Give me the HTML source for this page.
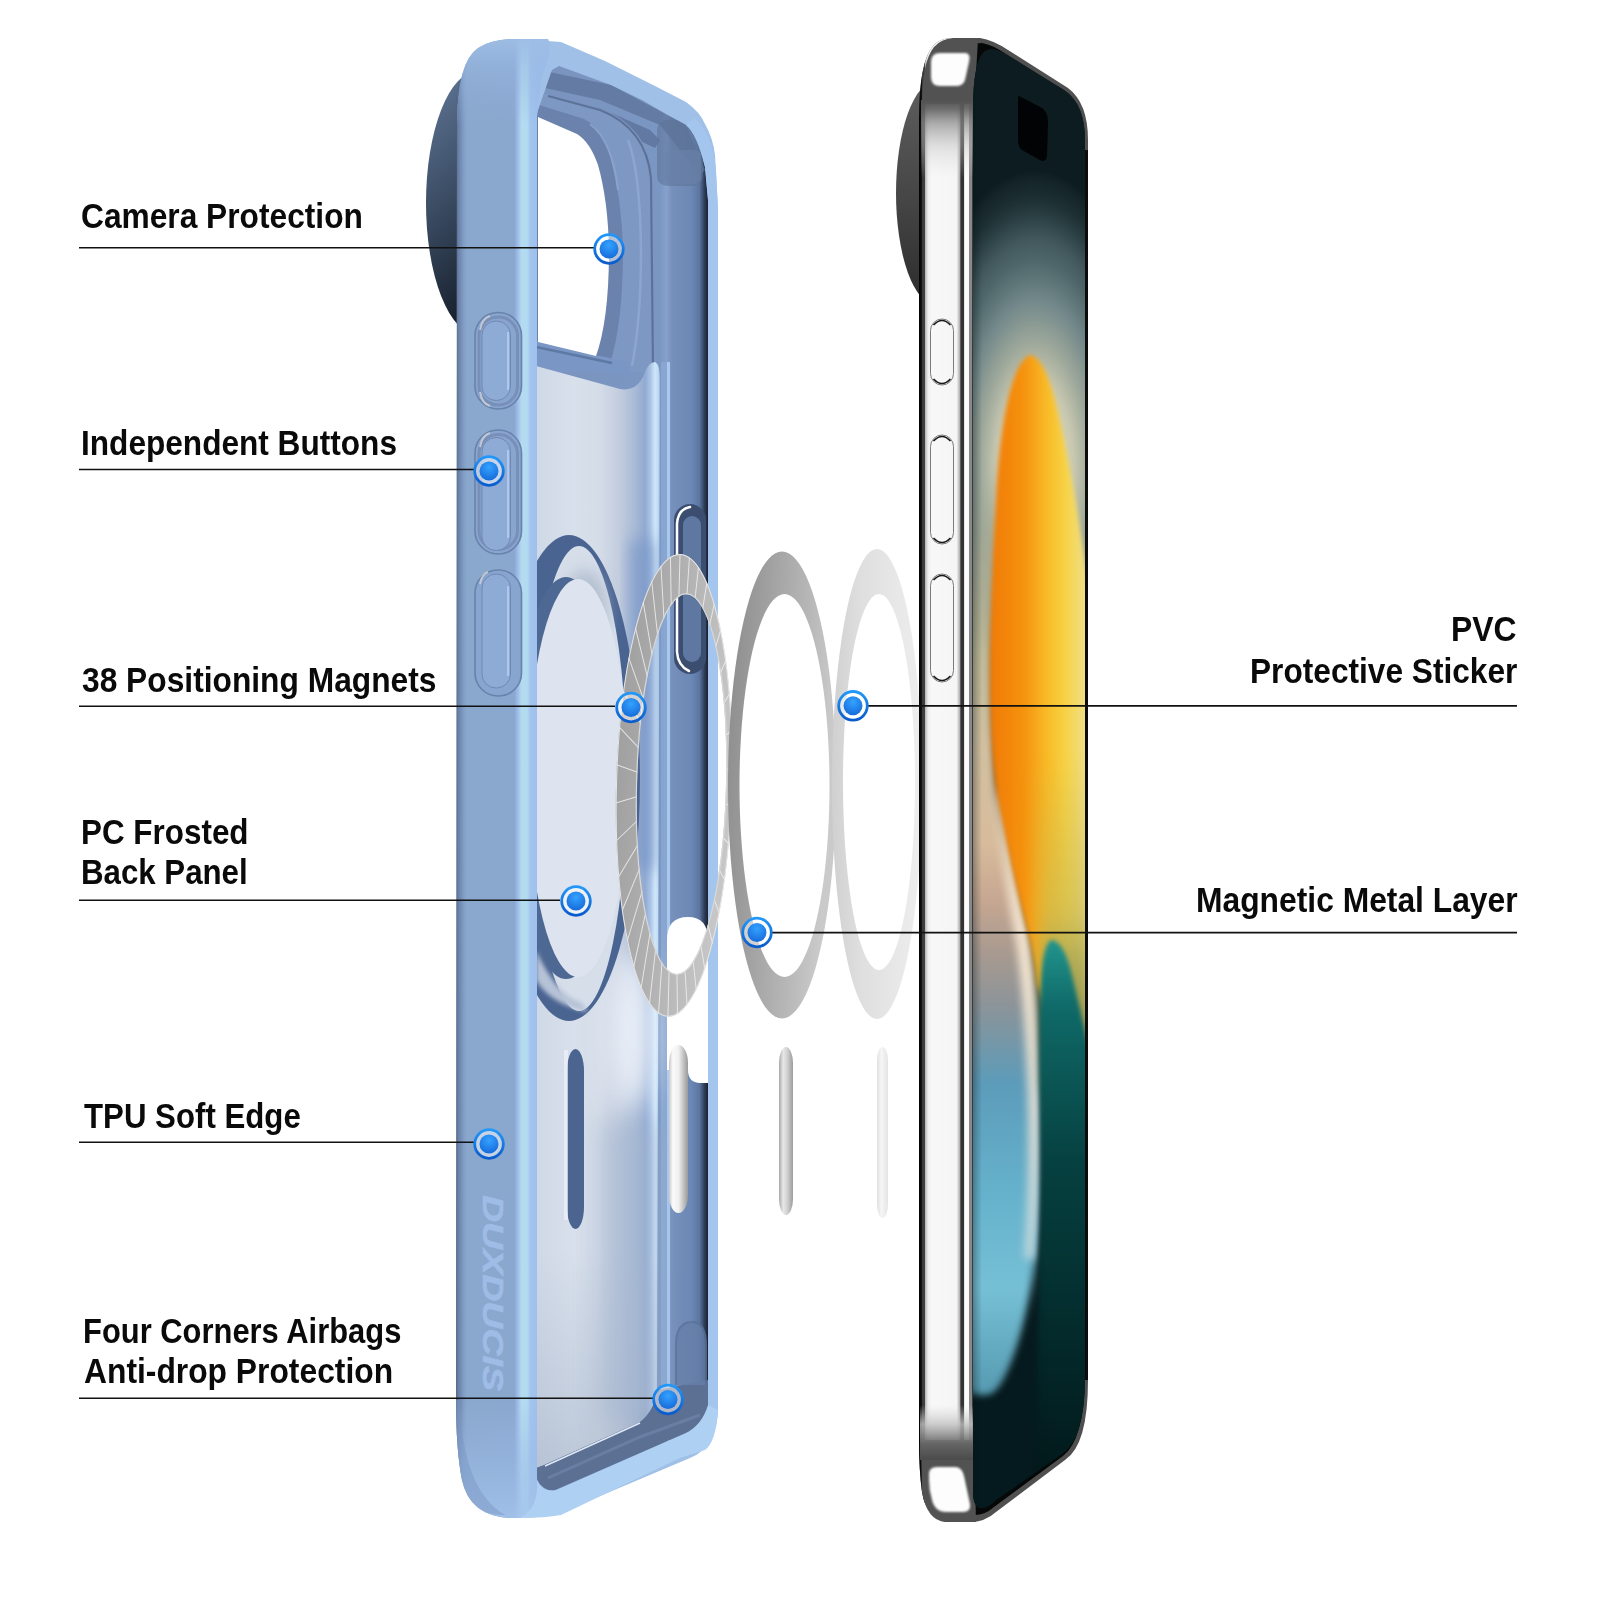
<!DOCTYPE html>
<html><head><meta charset="utf-8">
<style>
html,body{margin:0;padding:0;background:#fff;}
body{width:1600px;height:1600px;position:relative;overflow:hidden;font-family:"Liberation Sans",sans-serif;}
svg{position:absolute;left:0;top:0;}
.t{position:absolute;font-size:34.4px;line-height:34.4px;font-weight:bold;color:#0a0a0a;white-space:nowrap;transform-origin:0 0;}
</style></head><body>
<svg width="1600" height="1600" viewBox="0 0 1600 1600">
<defs>
  <filter id="b2" color-interpolation-filters="sRGB" x="-20%" y="-20%" width="140%" height="140%"><feGaussianBlur stdDeviation="2"/></filter>
  <filter id="b4" color-interpolation-filters="sRGB" x="-30%" y="-30%" width="160%" height="160%"><feGaussianBlur stdDeviation="4"/></filter>
  <filter id="b8" color-interpolation-filters="sRGB" x="-40%" y="-40%" width="180%" height="180%"><feGaussianBlur stdDeviation="8"/></filter>
  <filter id="b14" color-interpolation-filters="sRGB" x="-50%" y="-50%" width="200%" height="200%"><feGaussianBlur stdDeviation="14"/></filter>
  <linearGradient id="camCase" x1="0" y1="0" x2="0.35" y2="1">
    <stop offset="0" stop-color="#62789a"/><stop offset="0.45" stop-color="#3e5068"/><stop offset="1" stop-color="#121a26"/>
  </linearGradient>
  <linearGradient id="camPhone" x1="0" y1="0" x2="0" y2="1">
    <stop offset="0" stop-color="#5e5e5e"/><stop offset="0.5" stop-color="#474747"/><stop offset="1" stop-color="#2c2c2c"/>
  </linearGradient>
  <linearGradient id="side" x1="456" y1="0" x2="537" y2="0" gradientUnits="userSpaceOnUse">
    <stop offset="0" stop-color="#56688a"/><stop offset="0.03" stop-color="#6a80a6"/><stop offset="0.1" stop-color="#82a0c8"/>
    <stop offset="0.14" stop-color="#8aa7cc"/><stop offset="0.72" stop-color="#8aa7cf"/><stop offset="0.77" stop-color="#a2c0ea"/>
    <stop offset="0.81" stop-color="#b4dcf0"/><stop offset="0.88" stop-color="#b2daf0"/><stop offset="0.92" stop-color="#a2c4ee"/><stop offset="1" stop-color="#9ec0ec"/>
  </linearGradient>
  <linearGradient id="sideTop" x1="0" y1="39" x2="0" y2="125" gradientUnits="userSpaceOnUse">
    <stop offset="0" stop-color="#9ebee6" stop-opacity="0.95"/><stop offset="0.35" stop-color="#98b8e2" stop-opacity="0.5"/><stop offset="1" stop-color="#90b0da" stop-opacity="0"/>
  </linearGradient>
  <linearGradient id="sideBot" x1="0" y1="1400" x2="0" y2="1518" gradientUnits="userSpaceOnUse">
    <stop offset="0" stop-color="#9cbce6" stop-opacity="0"/><stop offset="0.5" stop-color="#9cbce6" stop-opacity="0.5"/><stop offset="1" stop-color="#a4c4ec" stop-opacity="0.85"/>
  </linearGradient>
  <linearGradient id="cav" x1="536" y1="0" x2="708" y2="0" gradientUnits="userSpaceOnUse">
    <stop offset="0" stop-color="#7a94be"/><stop offset="0.72" stop-color="#7a96c2"/><stop offset="0.76" stop-color="#86a2cc"/><stop offset="0.79" stop-color="#7590bb"/>
    <stop offset="0.9" stop-color="#6c88b4"/><stop offset="0.95" stop-color="#5c76a2"/><stop offset="0.98" stop-color="#2e3c56"/><stop offset="1" stop-color="#1a2232"/>
  </linearGradient>
  <linearGradient id="panel" x1="536" y1="0" x2="661" y2="0" gradientUnits="userSpaceOnUse">
    <stop offset="0" stop-color="#cfd8e6"/><stop offset="0.3" stop-color="#d8e0ec"/><stop offset="0.512" stop-color="#d4dce8"/><stop offset="0.672" stop-color="#c2ccde"/>
    <stop offset="0.792" stop-color="#a8bad6"/><stop offset="0.872" stop-color="#92aad0"/><stop offset="0.912" stop-color="#a6c0e6"/><stop offset="0.952" stop-color="#d0e6f8"/><stop offset="0.976" stop-color="#c0dcf6"/><stop offset="1" stop-color="#8aa8d4"/>
  </linearGradient>
  <linearGradient id="pill1" x1="0" y1="0" x2="1" y2="0">
    <stop offset="0" stop-color="#c8c8c8"/><stop offset="0.2" stop-color="#fafafa"/><stop offset="0.5" stop-color="#f0f0f0"/><stop offset="0.75" stop-color="#c4c4c4"/><stop offset="1" stop-color="#9a9a9a"/>
  </linearGradient>
  <linearGradient id="pill2" x1="0" y1="0" x2="1" y2="0">
    <stop offset="0" stop-color="#a8a8a8"/><stop offset="0.3" stop-color="#e8e8e8"/><stop offset="0.6" stop-color="#d0d0d0"/><stop offset="1" stop-color="#9c9c9c"/>
  </linearGradient>
  <linearGradient id="pill3" x1="0" y1="0" x2="1" y2="0">
    <stop offset="0" stop-color="#e0e0e0"/><stop offset="0.4" stop-color="#f6f6f6"/><stop offset="1" stop-color="#e4e4e4"/>
  </linearGradient>
  <linearGradient id="panelLow" x1="0" y1="1250" x2="0" y2="1460" gradientUnits="userSpaceOnUse">
    <stop offset="0" stop-color="#a8b6cc" stop-opacity="0"/><stop offset="1" stop-color="#a2b0c6" stop-opacity="0.5"/>
  </linearGradient>
  <linearGradient id="ring2" x1="0" y1="0" x2="1" y2="0.25">
    <stop offset="0" stop-color="#8a8a8a"/><stop offset="0.3" stop-color="#9c9c9c"/><stop offset="0.75" stop-color="#b8b8b8"/><stop offset="1" stop-color="#cacaca"/>
  </linearGradient>
  <linearGradient id="ring1" x1="0" y1="0" x2="1" y2="0.25">
    <stop offset="0" stop-color="#9c9c9c"/><stop offset="0.5" stop-color="#b0b0b0"/><stop offset="1" stop-color="#c6c6c6"/>
  </linearGradient>
  <linearGradient id="ring3" x1="0" y1="0" x2="1" y2="0">
    <stop offset="0" stop-color="#d0d0d0"/><stop offset="0.3" stop-color="#dedede"/><stop offset="1" stop-color="#eeeeee"/>
  </linearGradient>
  <linearGradient id="chrome" x1="919" y1="0" x2="976" y2="0" gradientUnits="userSpaceOnUse">
    <stop offset="0" stop-color="#000"/><stop offset="0.044" stop-color="#111"/><stop offset="0.055" stop-color="#3a3a3a"/><stop offset="0.096" stop-color="#3c3c3c"/>
    <stop offset="0.115" stop-color="#c0c0c0"/><stop offset="0.16" stop-color="#ececec"/><stop offset="0.22" stop-color="#f8f8f8"/><stop offset="0.66" stop-color="#f5f5f5"/>
    <stop offset="0.715" stop-color="#b0b0b0"/><stop offset="0.735" stop-color="#333"/><stop offset="0.785" stop-color="#333"/><stop offset="0.8" stop-color="#fff"/>
    <stop offset="0.87" stop-color="#fafafa"/><stop offset="0.885" stop-color="#8a8a8a"/><stop offset="0.93" stop-color="#888"/><stop offset="0.945" stop-color="#000"/><stop offset="1" stop-color="#000"/>
  </linearGradient>
  <radialGradient id="glow" cx="1035" cy="470" r="1" gradientUnits="userSpaceOnUse" gradientTransform="translate(1035 470) scale(130 300) translate(-1035 -470)">
    <stop offset="0" stop-color="#ece6c8"/><stop offset="0.167" stop-color="#e0dcc0"/><stop offset="0.3" stop-color="#c8c8b0"/><stop offset="0.417" stop-color="#a0aa9c"/>
    <stop offset="0.567" stop-color="#72888a"/><stop offset="0.7" stop-color="#4e666a"/><stop offset="0.767" stop-color="#42585c"/><stop offset="0.833" stop-color="#2e4448"/>
    <stop offset="0.9" stop-color="#1e3034"/><stop offset="0.967" stop-color="#142428"/><stop offset="1" stop-color="#0c1c20"/>
  </radialGradient>
  <linearGradient id="leftcol" x1="0" y1="470" x2="0" y2="1400" gradientUnits="userSpaceOnUse">
    <stop offset="0" stop-color="#a0a894" stop-opacity="0"/><stop offset="0.1" stop-color="#aeae94" stop-opacity="0.8"/><stop offset="0.2" stop-color="#c0ba98"/><stop offset="0.3" stop-color="#d2c0a0"/>
    <stop offset="0.4" stop-color="#d8bc9c"/><stop offset="0.46" stop-color="#c8a892"/><stop offset="0.52" stop-color="#a89a90"/><stop offset="0.58" stop-color="#8a949a"/>
    <stop offset="0.66" stop-color="#5c9cba"/><stop offset="0.78" stop-color="#66b2cc"/><stop offset="0.88" stop-color="#76c0d6"/><stop offset="1" stop-color="#5498ae"/>
  </linearGradient>
  <linearGradient id="creamG" x1="0" y1="780" x2="0" y2="1260" gradientUnits="userSpaceOnUse">
    <stop offset="0" stop-color="#f2dcbc"/><stop offset="0.4" stop-color="#f4e6d4"/><stop offset="0.7" stop-color="#dcdcd4"/><stop offset="1" stop-color="#b8d4dc"/>
  </linearGradient>
  <linearGradient id="oliveV" x1="0" y1="760" x2="0" y2="1090" gradientUnits="userSpaceOnUse">
    <stop offset="0" stop-color="#c0b050" stop-opacity="0"/><stop offset="0.45" stop-color="#c2b454" stop-opacity="0.55"/><stop offset="0.6" stop-color="#aaa654" stop-opacity="0.85"/><stop offset="1" stop-color="#58683c" stop-opacity="0.95"/>
  </linearGradient>
  <filter id="b1" color-interpolation-filters="sRGB" x="-20%" y="-20%" width="140%" height="140%"><feGaussianBlur stdDeviation="1.2"/></filter>
  <linearGradient id="capFadeT" x1="0" y1="100" x2="0" y2="178" gradientUnits="userSpaceOnUse">
    <stop offset="0" stop-color="#525252" stop-opacity="1"/><stop offset="0.12" stop-color="#606060" stop-opacity="0.9"/><stop offset="0.3" stop-color="#8a8a8a" stop-opacity="0.7"/><stop offset="0.6" stop-color="#bbbbbb" stop-opacity="0.4"/><stop offset="1" stop-color="#dddddd" stop-opacity="0"/>
  </linearGradient>
  <linearGradient id="capFadeB" x1="0" y1="1405" x2="0" y2="1460" gradientUnits="userSpaceOnUse">
    <stop offset="0" stop-color="#d8d8d8" stop-opacity="0"/><stop offset="0.35" stop-color="#c0c0c0" stop-opacity="0.8"/><stop offset="0.7" stop-color="#666" stop-opacity="0.95"/><stop offset="1" stop-color="#4a4a4a" stop-opacity="1"/>
  </linearGradient>
  <linearGradient id="edgeL" x1="972" y1="0" x2="982" y2="0" gradientUnits="userSpaceOnUse">
    <stop offset="0" stop-color="#06141a" stop-opacity="0.35"/><stop offset="1" stop-color="#06141a" stop-opacity="0"/>
  </linearGradient>
  <linearGradient id="orange" x1="990" y1="0" x2="1086" y2="0" gradientUnits="userSpaceOnUse">
    <stop offset="0" stop-color="#f07a06"/><stop offset="0.35" stop-color="#f5920e"/><stop offset="0.6" stop-color="#f8bc28"/><stop offset="0.8" stop-color="#f6d448"/><stop offset="1" stop-color="#eede88"/>
  </linearGradient>
  <linearGradient id="teal" x1="0" y1="940" x2="0" y2="1500" gradientUnits="userSpaceOnUse">
    <stop offset="0" stop-color="#22958e"/><stop offset="0.12" stop-color="#0f6a68"/><stop offset="0.4" stop-color="#064040"/><stop offset="1" stop-color="#021618"/>
  </linearGradient>
  <linearGradient id="blue" x1="0" y1="1000" x2="0" y2="1400" gradientUnits="userSpaceOnUse">
    <stop offset="0" stop-color="#8aa0a4"/><stop offset="0.3" stop-color="#5a9ab8"/><stop offset="0.7" stop-color="#6ab8d2"/><stop offset="1" stop-color="#4c90aa"/>
  </linearGradient>
  <radialGradient id="dotG" cx="0.5" cy="0.3" r="0.75">
    <stop offset="0" stop-color="#34a2ff"/><stop offset="1" stop-color="#1468d8"/>
  </radialGradient>
  <linearGradient id="dotR" x1="0" y1="0" x2="0" y2="1">
    <stop offset="0" stop-color="#2398f8"/><stop offset="1" stop-color="#0a5ccc"/>
  </linearGradient>
  <clipPath id="scrClip">
    <path d="M973 110 Q973 60 985 51 Q992 47 1002 52 L1064 90 Q1085 104 1085 140 L1085 1378 Q1085 1438 1062 1454 L996 1500 Q988 1508 982 1508 Q974 1508 973 1495 Z"/>
  </clipPath>
  <clipPath id="cavClip">
    <path d="M540 105 L552 70 L559 66 L611 85 L642 100 L668 115 L686 125 Q697 134 705 167 L708 200 L708 1405 Q706 1430 690 1438 L560 1490 Q544 1494 536 1478 L536 117 Z"/>
  </clipPath>
  <g id="dot"><circle r="14.3" fill="rgba(255,255,255,0.5)" stroke="url(#dotR)" stroke-width="2.8"/><circle r="9.5" fill="url(#dotG)"/></g>
</defs>

<!-- ===== CASE ===== -->
<ellipse cx="478" cy="203" rx="52" ry="132" fill="url(#camCase)"/>
<!-- outer silhouette / top wall -->
<path d="M457 120 Q458 58 488 44 Q500 39 520 39 L561 42 L605 61 L655 86 L686 102 Q700 112 705 124 Q713 138 715 155 L718 210 L718 1410 Q716 1448 690 1458 L560 1513 Q545 1518 510 1518 Q470 1516 462 1480 Q456 1450 456 1400 Z" fill="#a0c0e8"/>
<!-- cavity -->
<path d="M540 105 L552 70 L559 66 L611 85 L642 100 L668 115 L686 125 Q697 134 705 167 L708 200 L708 1405 Q706 1430 690 1438 L560 1490 Q544 1494 536 1478 L536 117 Z" fill="url(#cav)"/>
<g clip-path="url(#cavClip)">
  <!-- top inner wall shading -->
  <path d="M540 70 L611 85 L686 125 L705 170 L700 175 L660 125 L600 100 L545 88 Z" fill="#5d7399" opacity="0.75"/>
  <path d="M545 95 L600 108 L650 130 L660 140 L655 148 L600 122 L545 110 Z" fill="#52688e" opacity="0.6"/>
  <!-- camera surround (raised ring) -->
  <path d="M536 92 L600 108 Q648 126 653 178 L655 372 L536 372 Z" fill="#7e98c4"/>
  <path d="M548 96 L600 110 Q646 128 651 178 L653 368" fill="none" stroke="#5c7298" stroke-width="2.2"/>
  <path d="M536 104 L584 119 Q602 128 610 155 Q622 200 623 250 Q623 322 610 364 L536 352 Z" fill="#6a82ac"/>
  <path d="M590 124 Q612 140 618 190" fill="none" stroke="#8ea8d0" stroke-width="2" opacity="0.8"/>
  <path d="M628 140 Q640 170 641 250 Q641 320 632 366" fill="none" stroke="#90aad2" stroke-width="2.5" opacity="0.8"/>
  <path d="M536 341 L600 356 L630 362 L630 374 L536 370 Z" fill="#7a96c4"/>
  <path d="M536 347 L612 363" stroke="#5e78a4" stroke-width="2.5"/>
  <!-- right stripe & slot region -->
  <rect x="661" y="362" width="9" height="1080" fill="#88a6d0"/>
  <rect x="667" y="362" width="3" height="1080" fill="#a8c8ee"/>
  <!-- frosted panel -->
  <path d="M536 366 L620 389 Q638 392 645 372 Q649 362 655 362 Q660 364 660 380 L657 1390 Q655 1410 640 1422 L544 1465 L536 1468 Z" fill="url(#panel)"/>
  <path d="M536 1250 L657 1250 L657 1390 Q655 1410 640 1422 L544 1465 L536 1468 Z" fill="url(#panelLow)"/>
  <rect x="630" y="540" width="24" height="330" fill="#7a98c8" filter="url(#b8)" opacity="0.75"/>
  <rect x="600" y="1120" width="56" height="300" fill="#a4b6d0" filter="url(#b14)" opacity="0.6"/>
  <ellipse cx="632" cy="1030" rx="22" ry="80" fill="#f2f6fc" filter="url(#b14)" opacity="0.9"/>
  <!-- magsafe recess on case -->
  <ellipse cx="569" cy="778" rx="71" ry="243" fill="#4a6492"/>
  <ellipse cx="579" cy="778.5" rx="48" ry="232.5" fill="#d6deea"/>
  <ellipse cx="585" cy="610" rx="22" ry="40" fill="#aab6c8" filter="url(#b8)" opacity="0.8"/>
  <ellipse cx="566" cy="778" rx="52" ry="201" fill="#4e6894"/>
  <ellipse cx="578" cy="778" rx="50" ry="199" fill="#dde4ef"/>
  <path d="M536 950 Q556 995 582 1003 L588 1012 Q550 1004 536 980 Z" fill="#b6c2d6" filter="url(#b2)"/>
  <!-- slot -->
  <rect x="567" y="1049" width="17" height="180" rx="8.5" ry="22" fill="#4b6590"/>
  <rect x="564" y="1050" width="4" height="170" fill="#eef2f8" opacity="0.7"/>
  <!-- bottom interior -->
  <path d="M536 1468 L544 1465 L640 1422 Q655 1410 657 1390 L708 1380 L708 1420 Q700 1428 686 1433 L555 1490 L536 1495 Z" fill="#5c7094"/>
  <path d="M548 1478 L640 1437 L700 1415" fill="none" stroke="#6d82a6" stroke-width="3" opacity="0.8"/>
  <path d="M545 1466 L640 1423" fill="none" stroke="#dfe8f4" stroke-width="1.5"/>
  <!-- right cavity U-slot -->
  <rect x="674" y="504" width="32" height="170" rx="16" fill="#3c4e70"/>
  <rect x="683" y="516" width="18" height="146" rx="9" fill="#5e78a2"/>
  <path d="M690 507 Q678 509 677 524 L677 652 Q678 666 689 671" fill="none" stroke="#ffffff" stroke-width="2.5" stroke-linecap="round"/>
  <!-- corner airbag bumps -->
  <path d="M676 1385 L676 1345 Q676 1322 692 1322 Q706 1322 706 1345 L706 1385" fill="#6780aa" stroke="#5a7298" stroke-width="2" opacity="0.8"/>
  <rect x="657" y="120" width="46" height="66" rx="10" fill="#5c7298" opacity="0.55"/>
  <rect x="665" y="150" width="36" height="34" rx="6" fill="#6a82aa" opacity="0.6"/>
</g>
<!-- camera hole -->
<path d="M538 117 L577 134 Q590 142 598 165 Q608 200 609 250 Q609 320 596 356 L538 342 Z" fill="#fff"/>
<!-- side band -->
<path d="M457 125 Q457 62 478 48 Q492 39 515 39 L548 39 Q552 48 547 62 L541 80 L537 117 L537 1478 Q540 1512 525 1518 L510 1518 Q470 1516 462 1480 Q456 1450 456 1400 Z" fill="url(#side)"/>
<path d="M457 125 Q457 62 478 48 Q492 39 515 39 L548 39 Q552 48 547 62 L541 80 L537 117 L537 125 Z" fill="url(#sideTop)"/>
<path d="M456 1400 L537 1400 L537 1478 Q540 1512 525 1518 L510 1518 Q470 1516 462 1480 Q456 1450 456 1400 Z" fill="url(#sideBot)"/>
<path d="M460 1400 Q462 1490 505 1515 Q470 1516 462 1480 Q456 1450 456 1400 Z" fill="#7c98c4" opacity="0.5"/>
<!-- right rim -->
<path d="M705 167 Q697 134 686 125 L694 118 Q712 132 716 170 L718 210 L718 1410 Q716 1440 700 1450 L690 1440 Q708 1430 708 1405 L708 200 Z" fill="#a4c6ee"/>
<!-- bottom wall -->
<path d="M537 1480 Q542 1493 556 1490 L686 1433 Q702 1425 708 1405 L718 1410 Q716 1442 705 1450 L680 1458 L561 1515 Q545 1518 520 1518 Q539 1508 537 1480 Z" fill="#aed0f2"/>
<!-- buttons -->
<g fill="#88a5cf" stroke="#6882ac" stroke-width="1.6">
  <rect x="475" y="312.5" width="46.5" height="96.5" rx="23"/>
  <rect x="475" y="430" width="46.5" height="124" rx="23"/>
  <rect x="475" y="570" width="46.5" height="126" rx="23"/>
</g>
<g fill="none" stroke="#7890b8" stroke-width="3">
  <rect x="479" y="317" width="38.5" height="88" rx="19"/>
  <rect x="479" y="434.5" width="38.5" height="115" rx="19"/>
</g>
<g fill="#8eabd6" stroke="#7088b2" stroke-width="1">
  <rect x="482" y="321" width="28.5" height="79.5" rx="14"/>
  <rect x="482" y="437.5" width="28.5" height="113" rx="14"/>
  <rect x="482" y="574" width="28.5" height="114" rx="14"/>
</g>
<g fill="none" stroke="#b8d4f4" stroke-width="1.6" opacity="0.9">
  <path d="M508 332 L508 390"/>
  <path d="M508 450 L508 538"/>
  <path d="M508 586 L508 676"/>
</g>
<g fill="none" stroke="#c8ccd4" stroke-width="2" opacity="0.9">
  <path d="M480 330 Q482 318 490 316"/>
  <path d="M480 392 Q482 404 490 406"/>
  <path d="M480 447 Q482 435 490 433"/>
  <path d="M480 584 Q482 574 488 572"/>
</g>
<!-- brand text -->
<text x="0" y="0" transform="translate(482.5 1195) rotate(90)" font-family="Liberation Sans" font-weight="bold" font-style="italic" font-size="30" fill="#9fbce6" stroke="#9fbce6" stroke-width="0.6" textLength="196" lengthAdjust="spacingAndGlyphs">DUXDUCIS</text>

<!-- ===== RINGS ===== -->
<!-- white cutout -->
<path d="M667 940 Q667 917 688 917 Q708 917 708 940 L708 1083 L699 1083 Q688 1082 688 1070 L667 1070 Z" fill="#fff"/>
<!-- ring1 (magnet ring on case) -->
<g transform="rotate(1.5 676 785)">
<path fill-rule="evenodd" fill="url(#ring1)" d="M674 554.0 A58 231.5 0 1 0 674.01 554.0 Z M681.5 594 A44.5 190 0 1 1 681.49 594 Z"/>
<path fill="none" stroke="#efefef" stroke-width="1" opacity="0.85" d="M674.0 554.0L674.0 596.7M683.5 557.2L682.0 594.0M692.8 566.5L690.2 597.6M701.6 581.9L698.1 607.7M709.6 602.8L705.5 624.0M716.7 628.7L712.0 645.8M722.6 658.9L717.5 672.1M727.1 692.5L721.7 702.1M730.2 728.7L724.5 734.5M731.8 766.4L725.8 768.4M731.8 804.6L725.8 802.6M730.2 842.3L724.3 836.3M727.1 878.5L721.4 868.4M722.6 912.1L717.1 897.9M716.7 942.3L711.6 923.8M709.6 968.2L705.1 945.0M701.6 989.1L697.8 960.8M692.8 1004.5L689.9 970.6M683.5 1013.8L681.9 974.0M674.0 1017.0L674.0 971.3M664.5 1013.8L666.6 963.0M655.2 1004.5L659.9 950.0M646.4 989.1L654.0 933.3M638.4 968.2L649.0 913.7M631.3 942.3L644.9 892.3M625.4 912.1L641.8 869.6M620.9 878.5L639.4 846.0M617.8 842.3L637.9 822.0M616.2 804.6L637.1 797.7M616.2 766.4L637.1 773.3M617.8 728.7L637.8 748.9M620.9 692.5L639.2 724.6M625.4 658.9L641.5 700.7M631.3 628.7L644.6 677.6M638.4 602.8L648.7 655.7M646.4 581.9L653.7 635.7M655.2 566.5L659.6 618.5M664.5 557.2L666.5 605.2"/>
<ellipse cx="674" cy="785.5" rx="57.5" ry="231.0" fill="none" stroke="#e6e6e6" stroke-width="1"/>
<ellipse cx="681.5" cy="784" rx="45.0" ry="190.5" fill="none" stroke="#d8d8d8" stroke-width="1.2"/>
</g>
<!-- ring2 -->
<path fill-rule="evenodd" fill="url(#ring2)" d="M782 551.5 A54 233.5 0 1 0 782.01 551.5 Z M784.5 594 A45 191.5 0 1 1 784.49 594 Z"/>
<!-- ring3 -->
<path fill-rule="evenodd" fill="url(#ring3)" d="M877 549 A45 235 0 1 0 877.01 549 Z M879 594 A36 188 0 1 1 878.99 594 Z"/>
<!-- pills -->
<rect x="669" y="1045" width="19" height="168" rx="9.5" ry="18" fill="url(#pill1)"/>
<rect x="779" y="1047" width="14" height="168" rx="7" ry="16" fill="url(#pill2)"/>
<rect x="877" y="1047" width="11" height="171" rx="5.5" ry="14" fill="url(#pill3)"/>

<!-- ===== PHONE ===== -->
<ellipse cx="936" cy="193" rx="40" ry="112" fill="url(#camPhone)"/>
<!-- frame outline -->
<path d="M919 120 Q919 62 933 46 Q940 38 952 38 L980 38 Q993 40 1008 50 L1068 88 Q1088 103 1088 140 L1088 1380 Q1088 1445 1065 1460 L996 1512 Q985 1522 970 1522 L945 1522 Q927 1520 922 1492 Q919 1470 919 1440 Z" fill="#505050"/>
<path d="M970 60 L970 44 L982 43 Q993 45 1006 54 L1066 92 Q1084 106 1084 140 L1084 1380 Q1084 1440 1063 1456 L994 1507 Q985 1515 975 1515 L970 1515 Z" fill="#060808"/>
<!-- chrome side -->
<path d="M919 120 Q919 62 933 46 Q940 38 952 38 L973 38 L973 1522 L945 1522 Q927 1520 922 1492 Q919 1470 919 1440 Z" fill="url(#chrome)"/>
<!-- top cap -->
<path d="M922 104 Q922 62 934 47 Q941 39 953 38 L978 38 Q976 80 973 100 L973 104 Z" fill="#525252"/>
<rect x="921" y="100" width="52" height="78" fill="url(#capFadeT)"/>
<path d="M933 53 L966 53 Q971 54 969 62 L965 80 Q963 86 956 86 L940 86 Q931 86 931 77 L931 62 Q931 53 940 53 Z" fill="#fdfdfd" filter="url(#b1)"/>
<!-- bottom cap -->
<path d="M921 1440 L974 1440 L976 1522 L945 1522 Q927 1520 922 1492 Z" fill="#525252"/>
<rect x="920" y="1405" width="56" height="55" fill="url(#capFadeB)"/>
<path d="M929 1474 Q929 1467 937 1467 L955 1467 Q962 1467 964 1476 L970 1504 Q971 1512 963 1512 L946 1512 Q935 1512 932 1500 Q929 1490 929 1480 Z" fill="#fdfdfd" filter="url(#b1)"/>
<!-- buttons -->
<g><rect x="930.5" y="319" width="23.0" height="66" rx="11.5" fill="none" stroke="#7a7a7a" stroke-width="1"/><path d="M933.5 325 Q942.0 316 950.5 325" fill="none" stroke="#1a1a1a" stroke-width="1.6"/><path d="M933.5 379 Q942.0 388 950.5 379" fill="none" stroke="#1a1a1a" stroke-width="1.6"/><rect x="930.5" y="435" width="23.0" height="109" rx="11.5" fill="none" stroke="#7a7a7a" stroke-width="1"/><path d="M933.5 441 Q942.0 432 950.5 441" fill="none" stroke="#1a1a1a" stroke-width="1.6"/><path d="M933.5 538 Q942.0 547 950.5 538" fill="none" stroke="#1a1a1a" stroke-width="1.6"/><rect x="930.5" y="574" width="23.0" height="108" rx="11.5" fill="none" stroke="#7a7a7a" stroke-width="1"/><path d="M933.5 580 Q942.0 571 950.5 580" fill="none" stroke="#1a1a1a" stroke-width="1.6"/><path d="M933.5 676 Q942.0 685 950.5 676" fill="none" stroke="#1a1a1a" stroke-width="1.6"/></g>
<!-- screen -->
<g clip-path="url(#scrClip)">
  <rect x="970" y="40" width="120" height="1490" fill="#0c1c20"/>
  <rect x="970" y="40" width="120" height="900" fill="url(#glow)"/>
  <!-- left column warm->blue -->
  <path d="M966 470 L1004 470 Q994 560 993 640 Q992 720 998 800 Q1012 880 1028 940 Q1040 1000 1040 1120 Q1042 1250 1030 1300 Q1015 1370 993 1397 Q985 1400 966 1392 Z" fill="url(#leftcol)" filter="url(#b4)"/>
  <!-- cream highlight along right boundary -->
  <path d="M1000 780 Q1014 870 1028 930 Q1038 990 1040 1100 Q1041 1200 1034 1260 L1024 1258 Q1030 1180 1028 1100 Q1025 1000 1016 940 Q1004 880 996 800 Z" fill="url(#creamG)" filter="url(#b4)"/>
  <!-- orange -->
  <path d="M1030 355 C1046 357 1056 400 1064 440 C1070 470 1076 500 1082 540 L1092 600 L1092 1080 L1060 1080 Q1045 1000 1037 985 C1034 960 1031 945 1027 930 C1014 880 1004 830 998 800 C993 775 991 740 990 700 C989 650 992 560 996 500 C1000 420 1012 362 1030 355 Z" fill="url(#orange)" filter="url(#b2)"/>
  <path d="M1036 760 L1092 760 L1092 1090 L1046 1090 L1040 950 Z" fill="url(#oliveV)" filter="url(#b8)"/>
  <!-- teal -->
  <path d="M1052 940 Q1064 942 1072 975 Q1080 1010 1092 1060 L1092 1530 L1000 1530 Q1025 1470 1034 1360 Q1042 1260 1040 1120 Q1038 980 1044 955 Q1047 941 1052 940 Z" fill="url(#teal)" filter="url(#b2)"/>
  <!-- dark bottom under blue -->
  <path d="M960 1396 Q990 1404 1005 1385 Q1030 1340 1036 1260 L1040 1530 L960 1530 Z" fill="#041a1e" filter="url(#b4)"/>
  <!-- left edge shade -->
  <rect x="972" y="40" width="10" height="1490" fill="url(#edgeL)"/>
  <!-- notch -->
  <path d="M1019 96 L1042 108 Q1048 112 1048 122 L1047 156 Q1046 163 1040 160 L1022 150 Q1018 147 1018 140 L1018 100 Q1018 95 1019 96 Z" fill="#020304"/>
</g>
<rect x="1085" y="150" width="3" height="1230" fill="#0c0c0c"/>

<!-- ===== CALLOUT LINES ===== -->
<g stroke="#111" stroke-width="1.6">
  <line x1="79" y1="247.7" x2="594" y2="247.7"/>
  <line x1="79" y1="469.5" x2="474" y2="469.5"/>
  <line x1="79" y1="706.2" x2="615" y2="706.2"/>
  <line x1="79" y1="900.3" x2="560" y2="900.3"/>
  <line x1="79" y1="1142.3" x2="474" y2="1142.3"/>
  <line x1="79" y1="1398.2" x2="654" y2="1398.2"/>
  <line x1="868" y1="705.9" x2="1517" y2="705.9"/>
  <line x1="772" y1="932.6" x2="1517" y2="932.6"/>
</g>
<use href="#dot" x="609" y="249"/>
<use href="#dot" x="489" y="471"/>
<use href="#dot" x="631" y="707.5"/>
<use href="#dot" x="576" y="901"/>
<use href="#dot" x="489" y="1144"/>
<use href="#dot" x="668" y="1399.5"/>
<use href="#dot" x="853" y="705.8"/>
<use href="#dot" x="757" y="932.5"/>
</svg>

<div class="t" style="left:81.1px;top:198.9px;transform:scaleX(0.9218);">Camera Protection</div>
<div class="t" style="left:80.9px;top:425.6px;transform:scaleX(0.9188);">Independent Buttons</div>
<div class="t" style="left:81.6px;top:663.4px;transform:scaleX(0.9228);">38 Positioning Magnets</div>
<div class="t" style="left:80.7px;top:814.9px;transform:scaleX(0.9134);">PC Frosted</div>
<div class="t" style="left:80.7px;top:855.4px;transform:scaleX(0.9078);">Back Panel</div>
<div class="t" style="left:84.0px;top:1098.9px;transform:scaleX(0.9076);">TPU Soft Edge</div>
<div class="t" style="left:83.2px;top:1313.9px;transform:scaleX(0.8989);">Four Corners Airbags</div>
<div class="t" style="left:84.1px;top:1353.9px;transform:scaleX(0.9245);">Anti-drop Protection</div>
<div class="t" style="left:1451.1px;top:611.9px;transform:scaleX(0.9265);">PVC</div>
<div class="t" style="left:1250.2px;top:653.7px;transform:scaleX(0.9201);">Protective Sticker</div>
<div class="t" style="left:1196.2px;top:882.9px;transform:scaleX(0.9246);">Magnetic Metal Layer</div>
</body></html>
